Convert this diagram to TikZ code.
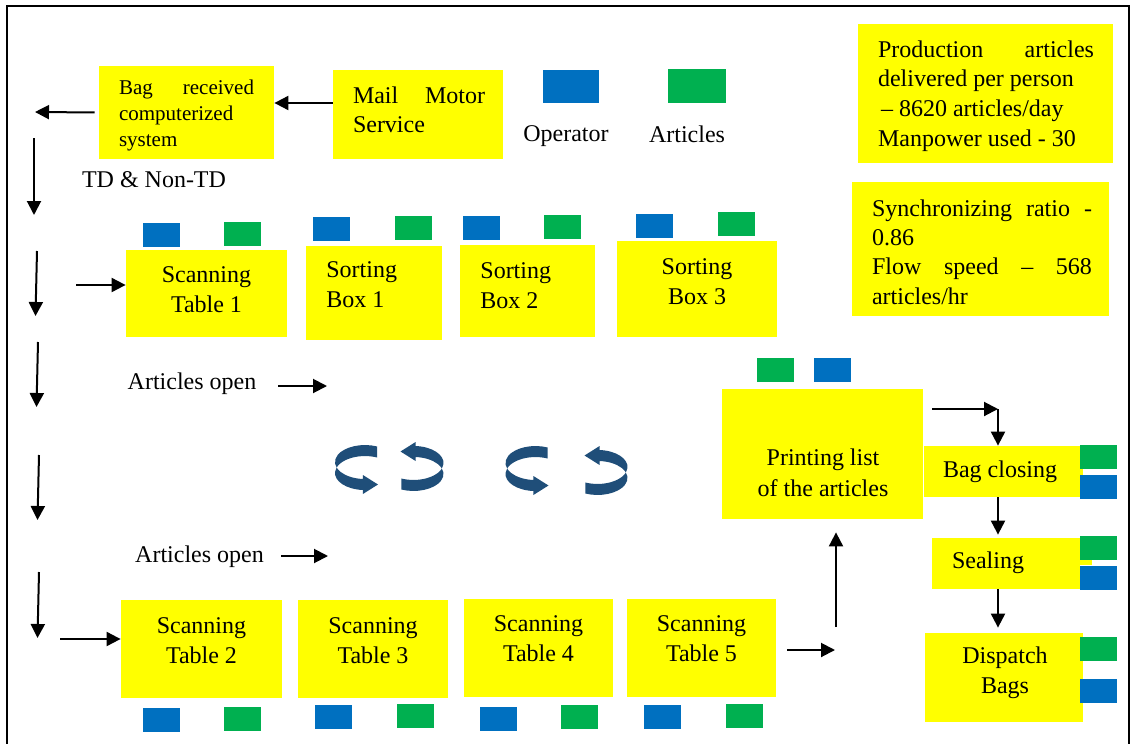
\documentclass[tikz,border=0pt]{standalone}
\usepackage{fontspec}
\setmainfont{Liberation Serif}
\usetikzlibrary{arrows.meta,fit}
\definecolor{boxyellow}{HTML}{FFFF00}
\definecolor{opblue}{HTML}{0070C0}
\definecolor{artgreen}{HTML}{00B050}
\definecolor{swirlblue}{HTML}{1F4E79}
% operator / article markers (37 x 24 units)
\newcommand\opsq[2]{\fill[opblue] (#1,#2) rectangle ++(37,24);}
\newcommand\artsq[2]{\fill[artgreen] (#1,#2) rectangle ++(37,24);}
\tikzset{
  ybox/.style={rectangle, fill=boxyellow, draw=none, inner sep=0pt},
  txt/.style={inner sep=0pt, align=center, font=\fontsize{12}{15}\selectfont},
  arr/.style={line width=1pt, -{Triangle[length=7pt,width=7pt]}},
  % half-ring ribbon arrow, local frame with y pointing up
  swirl/.pic={
    \fill[swirlblue] (21.2,23.5)
      arc[start angle=66, end angle=266, x radius=30, y radius=17]
      -- (6.9,-5) -- (22,-14.5) -- (6.9,-24) -- (6.9,-20)
      arc[start angle=266, end angle=66, x radius=30, y radius=17]
      -- cycle;
  }
}
\begin{document}
\begin{tikzpicture}[x=0.5pt,y=-0.5pt]
\useasboundingbox (0,0) rectangle (1130,744);
% frame
\draw[line width=1pt] (7,750) -- (7,6) -- (1128.5,6) -- (1128.5,750);

% ---- boxes ----
\node[ybox, fit={(99,66) (274,159)}] (bag) {};
\node[ybox, fit={(333,70) (503,159)}] (mms) {};
\node[ybox, fit={(858,24) (1113,163)}] (prod) {};
\node[ybox, fit={(852,182) (1109,316)}] (sync) {};
\node[ybox, fit={(126,250) (287,337)}] (st1) {};
\node[ybox, fit={(306,246) (442,340)}] (sb1) {};
\node[ybox, fit={(460,245) (595,337)}] (sb2) {};
\node[ybox, fit={(617,241) (777,337)}] (sb3) {};
\node[ybox, fit={(121,600) (282,698)}] (st2) {};
\node[ybox, fit={(298,600) (448,698)}] (st3) {};
\node[ybox, fit={(464,599) (613,697)}] (st4) {};
\node[ybox, fit={(627,599) (776,697)}] (st5) {};
\node[ybox, fit={(722,389) (923,519)}] (pl) {};
\node[ybox, fit={(924,446) (1083,497)}] (bc) {};
\node[ybox, fit={(932,538) (1080,589)}] (seal) {};
\fill[boxyellow] (1080,559) rectangle (1092,565);
\node[ybox, fit={(925,633) (1083,722)}] (dsp) {};

% ---- box texts ----
\node[txt, align=left, font=\fontsize{10.5}{13}\selectfont] (bagt) at (186.5,115)
  {\makebox[67.5pt][s]{Bag received}\\computerized\\system};
\node[txt, align=left, font=\fontsize{12}{14.5}\selectfont] (mmst) at (419,109.5)
  {\makebox[66pt][s]{Mail Motor}\\Service};
\node[txt, align=left, font=\fontsize{12}{14.8}\selectfont] (prodt) at (986,96)
  {\makebox[108pt][s]{Production articles}\\delivered per person\\\hspace*{1.5pt}– 8620 articles/day\\Manpower used - 30};
\node[txt, align=left, font=\fontsize{12}{14.7}\selectfont] (synct) at (982,252)
  {\makebox[110pt][s]{Synchronizing ratio -}\\0.86\\\makebox[110pt][s]{Flow speed – 568}\\articles/hr};
\node[txt] (st1t) at (206.5,290) {Scanning\\Table 1};
\node[txt, align=left, anchor=west] (sb1t) at (326,284.5) {Sorting\\Box 1};
\node[txt, align=left, anchor=west] (sb2t) at (480,285.5) {Sorting\\Box 2};
\node[txt] (sb3t) at (697,281.5) {Sorting\\Box 3};
\node[txt] (st2t) at (201.5,640.5) {Scanning\\Table 2};
\node[txt] (st3t) at (373,640.5) {Scanning\\Table 3};
\node[txt] (st4t) at (538.5,639) {Scanning\\Table 4};
\node[txt] (st5t) at (701.5,639) {Scanning\\Table 5};
\node[txt, font=\fontsize{12}{15.5}\selectfont] (plt) at (823,472.5)
  {Printing list\\of the articles};
\node[txt] (bct) at (1000,472) {Bag closing};
\node[txt] (sealt) at (988,563) {Sealing};
\node[txt] (dspt) at (1005,672.5) {Dispatch\\Bags};

% ---- free labels ----
\node[txt] (optl) at (566,136) {Operator};
\node[txt] (artl) at (687,134) {Articles};
\node[txt] (tdl) at (154,180) {TD \& Non-TD};
\node[txt] (ao1) at (192,384) {Articles open};
\node[txt] (ao2) at (199.5,557) {Articles open};

% ---- markers ----
\fill[opblue] (543,70) rectangle (599,103);
\fill[artgreen] (668,69) rectangle (726,103);
\opsq{143}{223} \artsq{224}{222}
\opsq{313}{217} \artsq{395}{216}
\opsq{463}{216} \artsq{544}{215}
\opsq{636}{214} \artsq{718}{212}
\artsq{757}{358} \opsq{814}{358}
\artsq{1080}{445} \opsq{1080}{475}
\artsq{1080}{536} \opsq{1080}{566}
\artsq{1080}{637} \opsq{1080}{679}
\opsq{143}{708} \artsq{224}{707}
\opsq{315}{705} \artsq{397}{704}
\opsq{480}{707} \artsq{561}{705}
\opsq{644}{705} \artsq{726}{704}

% ---- rotation symbols ----
\pic[yscale=-1] at (356,470) {swirl};
\pic[xscale=-1] at (422.5,466) {swirl};
\pic[yscale=-1] at (526.5,471) {swirl};
\pic[xscale=-1] at (606.5,470) {swirl};

% ---- connector end points ----
\coordinate (m1) at (300,103);
\coordinate (lt0) at (35,112);
\coordinate (d1s) at (34,138);  \coordinate (d1e) at (34,215);
\coordinate (d2s) at (37,251);  \coordinate (d2e) at (35.5,316);
\coordinate (d3s) at (38,342);  \coordinate (d3e) at (36.5,407);
\coordinate (d4s) at (39,455);  \coordinate (d4e) at (37.5,520);
\coordinate (d5s) at (39,572);  \coordinate (d5e) at (37.5,638);
\coordinate (h1) at (76,285);
\coordinate (h2) at (60,639);
\coordinate (ao1s) at (278,386); \coordinate (ao1e) at (327,386);
\coordinate (ao2s) at (281,556); \coordinate (ao2e) at (328,556);
\coordinate (s5e) at (835,650);
\coordinate (up1) at (836,627);
\coordinate (cr) at (998,409);

% ---- connectors ----
\draw[arr] (mms.west |- m1) -- (bag.east |- m1);
\draw[arr, shorten <=2pt] (bag.west) -- (lt0);
\draw[arr] (d1s) -- (d1e);
\draw[arr] (d2s) -- (d2e);
\draw[arr] (d3s) -- (d3e);
\draw[arr] (d4s) -- (d4e);
\draw[arr] (d5s) -- (d5e);
\draw[arr] (h1) -- (st1.west |- h1);
\draw[arr] (h2) -- (st2.west |- h2);
\draw[arr] (ao1s) -- (ao1e);
\draw[arr] (ao2s) -- (ao2e);
\draw[arr, shorten <=5.5pt] (st5.east |- s5e) -- (s5e);
\draw[arr, shorten >=6.5pt] (up1) -- (pl.south -| up1);
\draw[arr, shorten <=4.5pt] (pl.east |- cr) -- (cr);
\draw[arr] (cr) -- (bc.north -| cr);
\draw[arr, shorten >=1.5pt] (bc.south -| cr) -- (seal.north -| cr);
\draw[arr, shorten >=2.5pt] (seal.south -| cr) -- (dsp.north -| cr);
\end{tikzpicture}
\end{document}
